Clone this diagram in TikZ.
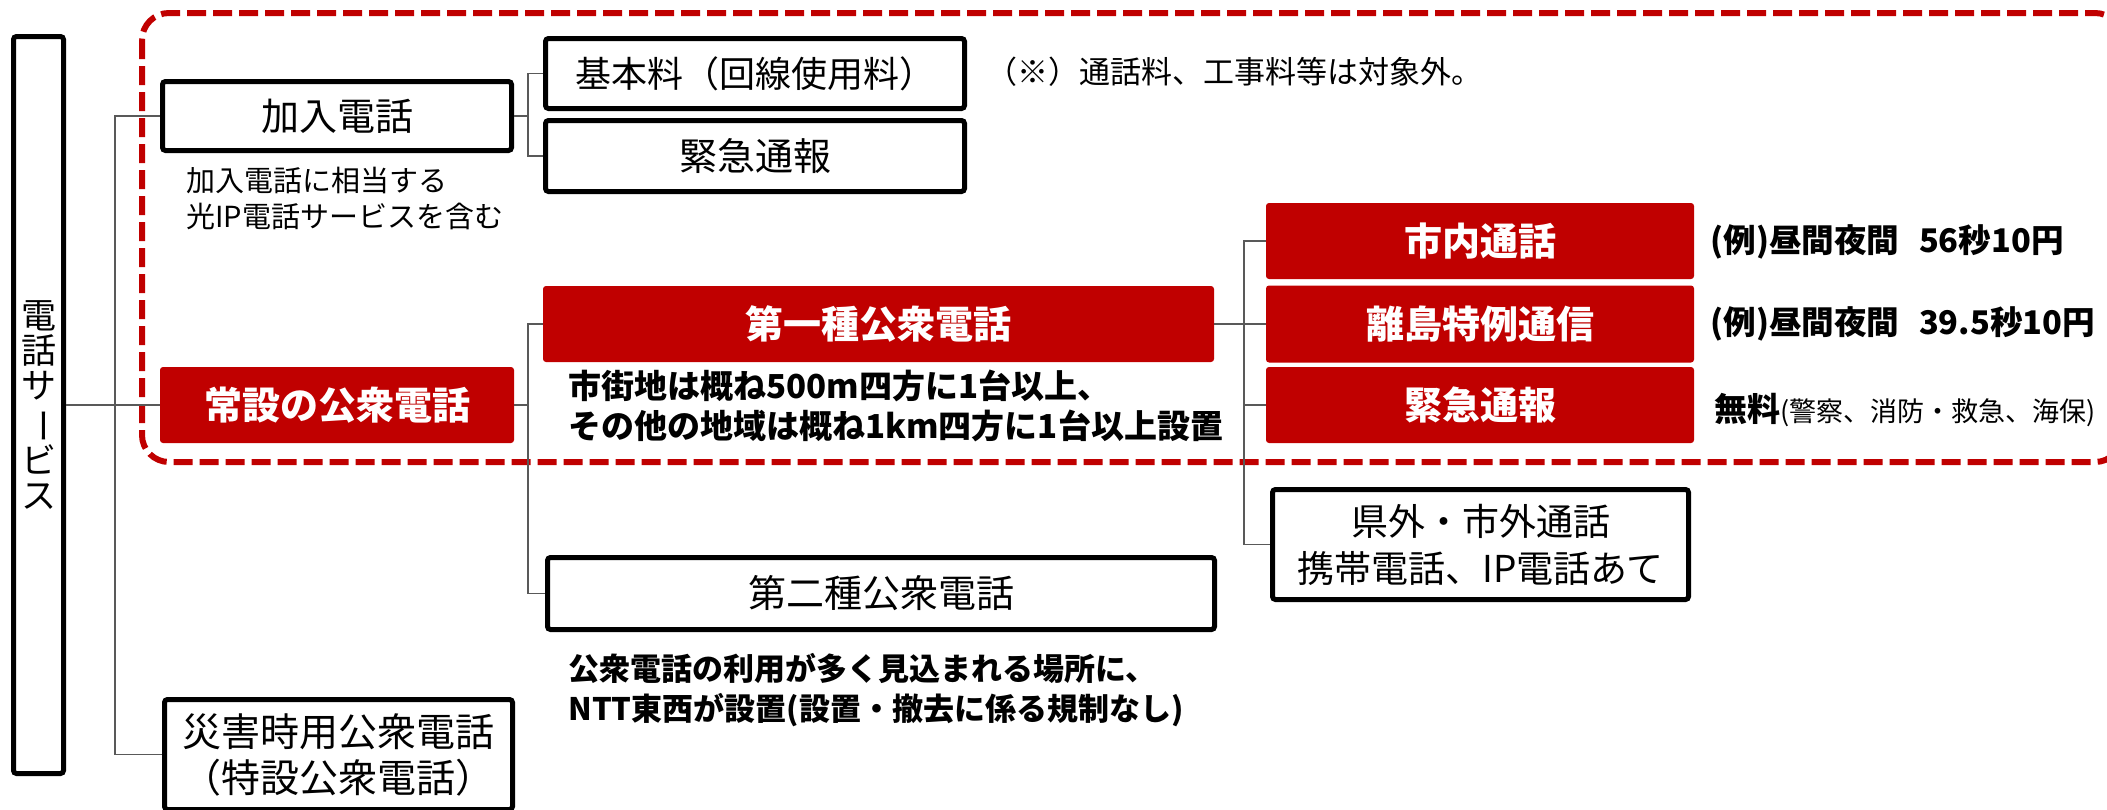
\documentclass[tikz,border=0pt]{standalone}
\usepackage{fontspec}
\setmainfont{Noto Sans CJK JP}
\definecolor{jred}{HTML}{C00000}
\newcommand{\fsz}[2]{\fontsize{#1}{#2}\selectfont}
\begin{document}
\begin{tikzpicture}[x=0.5pt,y=-0.5pt,
  wbox/.style={draw=black, line width=2.5pt, rounded corners=1.5pt, fill=white, inner sep=0pt, align=center, font=\fsz{19pt}{23pt}},
  rbox/.style={fill=jred, rounded corners=1.5pt, inner sep=0pt, text=white, align=center, font=\fsz{19pt}{23pt}\bfseries},
  conn/.style={draw=black!65, line width=0.75pt},
  dashbox/.style={draw=jred, line width=3pt, dash pattern=on 9.5pt off 3.5pt, rounded corners=13.5pt},
  note/.style={inner sep=0pt, align=left, anchor=west},
]
\useasboundingbox (0,0) rectangle (2107,809);
\clip (0,0) rectangle (2107,809);

% dashed frame
\draw[dashbox] (142,13) rectangle (2122,462);

% nodes
\node[wbox, minimum width=25pt, minimum height=368.5pt, font=\fsz{17.5pt}{17.5pt}] (svc) at (38.5,405)
  {電\\話\\サ\\\rotatebox[origin=c]{-90}{ー}\\ビ\\ス};
\node[wbox, minimum width=174.5pt, minimum height=34.5pt] (kanyu) at (337,116) {加入電話};
\node[rbox, minimum width=177pt, minimum height=38pt] (josetsu) at (337,405) {常設の公衆電話};
\node[wbox, minimum width=174pt, minimum height=55pt, font=\fsz{19.5pt}{23pt}] (saigai) at (338.5,754.5) {災害時用公衆電話\\（特設公衆電話）};

\node[wbox, minimum width=209.5pt, minimum height=35pt, font=\fsz{18pt}{22pt}] (kihon) at (755,73.5) {基本料（回線使用料）};
\node[wbox, minimum width=209.5pt, minimum height=35.5pt] (kinkyuA) at (755,156) {緊急通報};

\node[rbox, minimum width=335.5pt, minimum height=38pt] (dai1) at (878.5,324) {第一種公衆電話};
\node[wbox, minimum width=333.5pt, minimum height=36pt] (dai2) at (881,593.5) {第二種公衆電話};

\node[rbox, minimum width=214pt, minimum height=38pt] (shinai) at (1480,241) {市内通話};
\node[rbox, minimum width=214pt, minimum height=38.5pt] (ritou) at (1480,324) {離島特例通信};
\node[rbox, minimum width=214pt, minimum height=38pt] (kinkyuB) at (1480,405) {緊急通報};
\node[wbox, minimum width=208pt, minimum height=55pt, font=\fsz{18.5pt}{23.5pt}] (kengai) at (1480.5,544.5) {県外・市外通話\\携帯電話、IP電話あて};

% notes
\node[note, font=\fsz{14.5pt}{18pt}] (kanyunote) at (186,198) {加入電話に相当する\\光IP電話サービスを含む};
\node[note, font=\fsz{15.5pt}{18pt}] (taishougai) at (986,72) {（※）通話料、工事料等は対象外。};
\node[note, font=\fsz{16.5pt}{20pt}\bfseries] (dai1note) at (568,406) {市街地は概ね500m四方に1台以上、\\その他の地域は概ね1km四方に1台以上設置};
\node[note, font=\fsz{15.5pt}{20pt}\bfseries] (dai2note) at (568,690) {公衆電話の利用が多く見込まれる場所に、\\NTT東西が設置(設置・撤去に係る規制なし)};
\node[note, font=\fsz{16.3pt}{20pt}\bfseries] (price1) at (1710,242) {(例)昼間夜間\hspace{0.6em}56秒10円};
\node[note, font=\fsz{16.3pt}{20pt}\bfseries] (price2) at (1710,324) {(例)昼間夜間\hspace{0.6em}39.5秒10円};
\node[note] (price3) at (1714,410) {{\fsz{16.5pt}{20pt}\bfseries 無料}{\fsz{13.5pt}{17pt}(警察、消防・救急、海保)}};

% trunk coordinates
\coordinate (t1) at (115,405);
\coordinate (t2) at (528,116);
\coordinate (t3) at (528,405);
\coordinate (t4) at (1244,324);

% connectors
\draw[conn] (svc.east) -- (josetsu.west);
\draw[conn] (kanyu.west) -| (t1);
\draw[conn] (t1) |- (saigai.west);

\draw[conn] (kanyu.east) -- (t2);
\draw[conn] (kihon.west) -| (t2);
\draw[conn] (kinkyuA.west) -| (t2);

\draw[conn] (josetsu.east) -- (t3);
\draw[conn] (dai1.west) -| (t3);
\draw[conn] (dai2.west) -| (t3);

\draw[conn] (dai1.east) -- (ritou.west);
\draw[conn] (shinai.west) -| (t4);
\draw[conn] (t4) |- (kinkyuB.west);
\draw[conn] (t4) |- (kengai.west);
\end{tikzpicture}
\end{document}
